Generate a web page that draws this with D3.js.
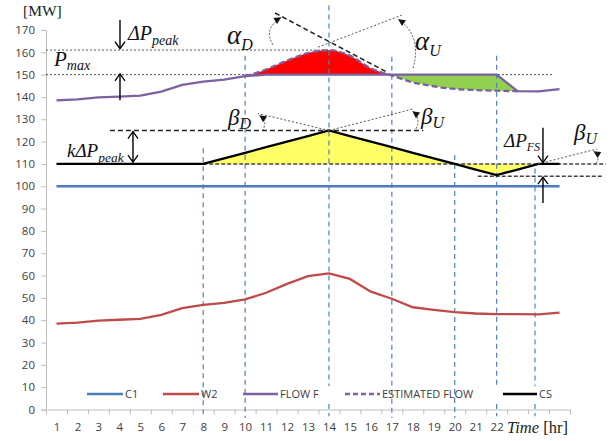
<!DOCTYPE html>
<html>
<head>
<meta charset="utf-8">
<script src="https://cdnjs.cloudflare.com/ajax/libs/d3/7.8.5/d3.min.js"></script>
<style>
body { margin: 0; background: #fff; }
text { font-family: "Open Sans", "Liberation Sans", sans-serif; }
.serif { font-family: "Liberation Serif", "DejaVu Serif", serif; }
</style>
</head>
<body>
<div id="chart"></div>
<script>
// hours on the category axis
var hours = [1,2,3,4,5,6,7,8,9,10,11,12,13,14,15,16,17,18,19,20,21,22,23,24,25];
var xLabels = [1,2,3,4,5,6,7,8,9,10,11,12,13,14,15,16,17,18,19,20,21,22];
var yTicks = [0,10,20,30,40,50,60,70,80,90,100,110,120,130,140,150,160,170];

// series, MW
var c1 = [100,100,100,100,100,100,100,100,100,100,100,100,100,100,100,100,100,100,100,100,100,100,100,100,100];
var w2 = [38.5,38.9,39.8,40.2,40.6,42.4,45.4,46.9,47.8,49.3,52.3,56.3,59.7,61,58.5,52.8,49.6,45.8,44.6,43.6,43,42.7,42.7,42.6,43.4];
var flowF = [138.5,138.9,139.8,140.2,140.6,142.4,145.4,146.9,147.8,149.3,150,150,150,150,150,150,150,150,150,150,150,150,142.6,142.5,143.5];
var estHours = [10,11,12,13,14,15,16,17,18,19,20,21,22,23];
var estFlow = [149.3,152.3,156.3,159.7,161,158.5,152.8,149.6,146.6,144.8,143.6,143.1,142.8,142.6];
var cs = [110,110,110,110,110,110,110,110,112.5,115,117.5,120,122.5,125,122.5,120,117.5,115,112.5,110,107.5,105,107.5,110,110];

// reference levels
var pMax = 150, pPeak = 161, csTop = 125, csBase = 110, csLow = 104.5;

// vertical marker hours
var markLines = [
  {h: 8, top: 117, gap: false},
  {h: 10, top: 158.5, gap: false},
  {h: 14, top: 181, gap: true},
  {h: 17, top: 158, gap: false},
  {h: 20, top: 114, gap: false},
  {h: 22, top: 158.5, gap: true},
  {h: 23.83, top: 108, gap: true}
];

var legendItems = [
  {name: "C1", color: "#4a7ebb", dash: null, x0: 87, x1: 123},
  {name: "W2", color: "#be4b48", dash: null, x0: 163, x1: 199},
  {name: "FLOW F", color: "#7d60a0", dash: null, x0: 243, x1: 278},
  {name: "ESTIMATED FLOW", color: "#7d60a0", dash: "5,3", x0: 345, x1: 380},
  {name: "CS", color: "#000", dash: null, x0: 503, x1: 537}
];

var width = 613, height = 441;
var svg = d3.select("#chart").append("svg")
  .attr("width", width).attr("height", height);

var x = d3.scaleLinear().domain([0.5, 25.5]).range([46, 570]);
var y = d3.scaleLinear().domain([0, 170]).range([409.5, 30]);

var defs = svg.append("defs");
defs.append("marker").attr("id", "vee")
  .attr("viewBox", "-8 -6 10 12").attr("refX", 0).attr("refY", 0)
  .attr("markerWidth", 10).attr("markerHeight", 12)
  .attr("markerUnits", "userSpaceOnUse").attr("orient", "auto-start-reverse")
  .append("path").attr("d", "M-7,-5 L0,0 L-7,5")
  .attr("fill", "none").attr("stroke", "#000").attr("stroke-width", 1.3);
defs.append("marker").attr("id", "tri")
  .attr("viewBox", "-8 -4 9 8").attr("refX", 0).attr("refY", 0)
  .attr("markerWidth", 9).attr("markerHeight", 8)
  .attr("markerUnits", "userSpaceOnUse").attr("orient", "auto")
  .append("path").attr("d", "M-7,-3.5 L0,0 L-7,3.5 Z").attr("fill", "#111");

// axes
var yAxis = svg.append("g").attr("transform", "translate(46,0)")
  .call(d3.axisLeft(y).tickValues(yTicks).tickSize(5).tickPadding(6));
yAxis.select(".domain").attr("stroke", "#bfbfbf");
yAxis.selectAll(".tick line").attr("stroke", "#bfbfbf");
yAxis.selectAll(".tick text").attr("fill", "#404040").style("font-size", "11.5px");

var bounds = d3.range(0, 26).map(function(k) { return k + 0.5; });
var xAxis = svg.append("g").attr("transform", "translate(0," + y(0) + ")")
  .call(d3.axisBottom(x).tickValues(bounds).tickSize(5).tickFormat(""));
xAxis.select(".domain").attr("stroke", "#bfbfbf");
xAxis.selectAll(".tick line").attr("stroke", "#bfbfbf");

var xLab = svg.append("g").attr("transform", "translate(0," + y(0) + ")")
  .call(d3.axisBottom(x).tickValues(xLabels).tickSize(0).tickPadding(13));
xLab.select(".domain").remove();
xLab.selectAll(".tick text").attr("fill", "#404040").style("font-size", "11.5px");

svg.append("text").attr("class", "serif").attr("x", 23).attr("y", 16)
  .style("font-size", "15.5px").attr("fill", "#222").text("[MW]");
var tl = svg.append("text").attr("class", "serif").attr("x", 507).attr("y", 433)
  .style("font-size", "16.5px").attr("fill", "#222");
tl.append("tspan").style("font-style", "italic").text("Time");
tl.append("tspan").text(" [hr]");

// fills
var estPts = estHours.map(function(h, i) { return {h: h, e: estFlow[i], f: flowF[h - 1]}; });
var redPts = estPts.filter(function(d) { return d.h <= 17; });
var greenPts = estPts.filter(function(d) { return d.h >= 17; });

svg.append("path").datum(redPts)
  .attr("fill", "#ff0000")
  .attr("d", d3.area().curve(d3.curveMonotoneX)
    .x(function(d) { return x(d.h); })
    .y0(function(d) { return y(d.f); })
    .y1(function(d) { return y(Math.max(d.e, d.f)); }));
svg.append("path").datum(greenPts)
  .attr("fill", "#92d050")
  .attr("d", d3.area()
    .x(function(d) { return x(d.h); })
    .y0(function(d) { return y(d.f); })
    .y1(function(d) { return y(Math.min(d.e, d.f)); }));

var csPts = hours.map(function(h, i) { return {h: h, v: cs[i]}; })
  .filter(function(d) { return d.h >= 8 && d.h <= 24; });
svg.append("path").datum(csPts)
  .attr("fill", "#ffff66")
  .attr("d", d3.area()
    .x(function(d) { return x(d.h); })
    .y0(y(csBase))
    .y1(function(d) { return y(d.v); }));

// vertical marker lines
markLines.forEach(function(m) {
  var segs = m.gap ? [[m.top, 10.5], [2.5, -3]] : [[m.top, -3.8]];
  segs.forEach(function(s) {
    svg.append("line")
      .attr("x1", x(m.h)).attr("x2", x(m.h))
      .attr("y1", y(s[0])).attr("y2", y(s[1]))
      .attr("stroke", "#4f81bd").attr("stroke-width", 1.2)
      .attr("stroke-dasharray", "5,4");
  });
});

// reference lines
function hline(v, h0, h1, style) {
  var l = svg.append("line")
    .attr("x1", x(h0)).attr("x2", x(h1))
    .attr("y1", y(v)).attr("y2", y(v));
  style(l);
  return l;
}
function dotted(l) {
  l.attr("stroke", "#555").attr("stroke-width", 1).attr("stroke-dasharray", "2,2").attr("fill", "none");
}
function dashed(l) {
  l.attr("stroke", "#222").attr("stroke-width", 1.5).attr("stroke-dasharray", "5,3").attr("fill", "none");
}
function dashedGrey(l) {
  l.attr("stroke", "#444").attr("stroke-width", 1.4).attr("stroke-dasharray", "4,2").attr("fill", "none");
}
hline(pPeak, 0.5, 14, dotted);
hline(pMax, 0.5, 24.65, dotted);
hline(csTop, 3.55, 18.5, dashed);
hline(csBase, 8, 27.2, dashedGrey);
hline(csLow, 21.1, 27.1, dashedGrey);

// series lines
function seriesLine(vals, color, dash) {
  svg.append("path").datum(vals)
    .attr("fill", "none").attr("stroke", color).attr("stroke-width", 2.3)
    .attr("stroke-dasharray", dash)
    .attr("d", d3.line()
      .x(function(d, i) { return x(hours[i]); })
      .y(function(d) { return y(d); }));
}
seriesLine(c1, "#4a7ebb", null);
seriesLine(w2, "#be4b48", null);
seriesLine(flowF, "#7d60a0", null);
svg.append("path").datum(estPts)
  .attr("fill", "none").attr("stroke", "#7d60a0").attr("stroke-width", 2.3)
  .attr("stroke-dasharray", "6,3")
  .attr("d", d3.line().curve(d3.curveMonotoneX)
    .x(function(d) { return x(d.h); })
    .y(function(d) { return y(d.e); }));
seriesLine(cs, "#000", null);

// angle construction lines and arcs
function seg(a, b, style) {
  var l = svg.append("line")
    .attr("x1", x(a[0])).attr("y1", y(a[1]))
    .attr("x2", x(b[0])).attr("y2", y(b[1]));
  style(l);
  return l;
}
function arc(a, c, b) {
  svg.append("path")
    .attr("d", "M" + x(a[0]) + "," + y(a[1]) + " Q" + x(c[0]) + "," + y(c[1]) + " " + x(b[0]) + "," + y(b[1]))
    .attr("fill", "none").attr("stroke", "#444").attr("stroke-width", 0.9)
    .attr("stroke-dasharray", "2,1.5").attr("marker-end", "url(#tri)");
}
seg([11.43, 177.6], [16.77, 151.1], dashed);
seg([13.48, 162.3], [17.48, 176.7], dotted);
arc([11.33, 163.3], [10.85, 170.5], [11.72, 175.7]);
arc([18.01, 152.9], [18.45, 167.5], [17.3, 174.8]);

seg([14, 125], [10.61, 132.6], dotted);
seg([14, 125], [18.01, 134.6], dotted);
arc([10.81, 124.8], [11.12, 128.8], [10.68, 131.8]);
arc([18.15, 125.7], [18.42, 130.6], [17.98, 133.6]);
seg([23.97, 110], [26.79, 116.7], dotted);
arc([26.74, 110.2], [26.98, 113.6], [26.62, 115.7]);

// arrows
function arrow(h, v0, v1, both) {
  var l = svg.append("line")
    .attr("x1", x(h)).attr("x2", x(h))
    .attr("y1", y(v0)).attr("y2", y(v1))
    .attr("stroke", "#000").attr("stroke-width", 1.4)
    .attr("marker-end", "url(#vee)");
  if (both) l.attr("marker-start", "url(#vee)");
}
arrow(4.03, 174.5, 161.6, false);
arrow(4.03, 138.5, 150.3, false);
arrow(4.65, 124.5, 110.8, true);
arrow(24.21, 126.2, 110.6, false);
arrow(24.21, 92.5, 104.1, false);

// annotation labels
function label(px, py, main, sub, size, subSize, dy) {
  var t = svg.append("text").attr("class", "serif")
    .attr("x", px).attr("y", py).attr("fill", "#111")
    .style("font-style", "italic").style("font-size", size + "px");
  t.append("tspan").text(main);
  t.append("tspan").attr("dy", dy).style("font-size", subSize + "px").text(sub);
}
label(128, 40, "\u0394P", "peak", 20, 14, 5);
label(54, 66, "P", "max", 21, 14, 4);
label(227, 44, "\u03b1", "D", 27, 16, 6);
label(415, 50, "\u03b1", "U", 27, 16, 6);
label(228, 125, "\u03b2", "D", 23, 16, 4);
label(421, 124, "\u03b2", "U", 23, 16, 4);
label(574, 140, "\u03b2", "U", 23, 16, 4);
label(67, 157, "k\u0394P", "peak", 19, 13.5, 5);
label(504, 147, "\u0394P", "FS", 19, 12, 4);

// legend
var legY = 394;
var leg = svg.append("g");
legendItems.forEach(function(d) {
  leg.append("line").attr("x1", d.x0).attr("x2", d.x1)
    .attr("y1", legY).attr("y2", legY)
    .attr("stroke", d.color).attr("stroke-width", 2.5)
    .attr("stroke-dasharray", d.dash);
  leg.append("text").attr("x", d.x1 + 2).attr("y", legY + 4)
    .attr("fill", "#404040").style("font-size", "11px").text(d.name);
});
</script>
</body>
</html>
